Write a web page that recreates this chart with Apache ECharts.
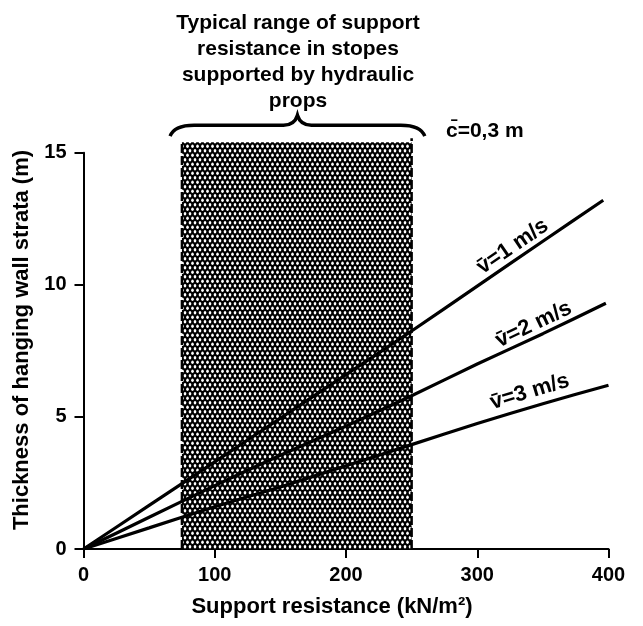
<!DOCTYPE html>
<html><head><meta charset="utf-8">
<script src="https://cdn.jsdelivr.net/npm/echarts@6/dist/echarts.min.js"></script>
<style>html,body{margin:0;padding:0;background:#fff}#c{width:643px;height:626px}</style>
</head><body><div id="c"></div>
<script>
// ---- data ----
const xTicks = [0, 100, 200, 300, 400];
const yTicks = [0, 5, 10, 15];
const v1X = [0, 50, 100, 150, 200, 250, 300, 350, 396];
const v1Y = [0, 1.65, 3.3, 4.95, 6.6, 8.25, 9.95, 11.65, 13.2];
const v2X = [0, 50, 100, 150, 200, 250, 300, 350, 398];
const v2Y = [0, 1.2, 2.4, 3.55, 4.65, 5.8, 7.0, 8.15, 9.3];
const v3X = [0, 50, 100, 150, 200, 250, 300, 350, 400];
const v3Y = [0, 0.8, 1.6, 2.35, 3.15, 3.95, 4.75, 5.5, 6.2];
const seriesNames = ['v\u0304=1 m/s', 'v\u0304=2 m/s', 'v\u0304=3 m/s'];
const labelAt = [[327, 11.45], [343, 8.5], [340, 5.95]];
const rangeX = [75, 250];
const rangeTop = 15.4;
const braceX = [66, 260];
const titleLines = ['Typical range of support', 'resistance in stopes', 'supported by hydraulic', 'props'];
const cText = 'c\u0304=0,3 m';
const xName = 'Support resistance (kN/m\u00B2)';
const yName = 'Thickness of hanging wall strata (m)';

const FONT = '"Liberation Sans", Arial, Helvetica, sans-serif';

function makePattern() {
  const c = document.createElement('canvas');
  c.width = 5; c.height = 9;
  const g = c.getContext('2d');
  g.fillStyle = '#000'; g.fillRect(0, 0, 5, 9);
  g.fillStyle = '#fff';
  const dots = [[2.5, 2.25], [0, 6.75], [5, 6.75]];
  dots.forEach(d => { g.beginPath(); g.ellipse(d[0], d[1], 1.3, 1.75, 0, 0, Math.PI * 2); g.fill(); });
  return c;
}
const pattern = makePattern();

const zip = (xs, ys) => xs.map((x, i) => [x, ys[i]]);
const lineData = [zip(v1X, v1Y), zip(v2X, v2Y), zip(v3X, v3Y)];

const chart = echarts.init(document.getElementById('c'), null, { renderer: 'canvas' });
const axisCommon = {
  axisLine: { show: true, onZero: false, lineStyle: { color: '#000', width: 2 } },
  axisTick: { show: true, inside: false, length: 9, lineStyle: { color: '#000', width: 2 } },
  splitLine: { show: false },
  axisLabel: { color: '#000', fontSize: 20, fontWeight: 'bold', fontFamily: FONT }
};
const option = {
  animation: false,
  backgroundColor: '#fff',
  grid: { left: 83.5, right: 34.5, top: 152.7, bottom: 77 },
  xAxis: Object.assign({ type: 'value', min: xTicks[0], max: xTicks[xTicks.length - 1], interval: 100 }, axisCommon,
    { axisLabel: Object.assign({}, axisCommon.axisLabel, { margin: 16 }) }),
  yAxis: Object.assign({ type: 'value', min: yTicks[0], max: yTicks[yTicks.length - 1], interval: 5 }, axisCommon,
    { axisLabel: Object.assign({}, axisCommon.axisLabel, { margin: 17 }) }),
  series: [
    {
      type: 'custom', clip: false, z: 1, silent: true,
      data: [[rangeX[0], rangeX[1], rangeTop]],
      encode: { x: [0, 1], y: 2 },
      renderItem(params, api) {
        const p0 = api.coord([api.value(0), 0]);
        const p1 = api.coord([api.value(1), api.value(2)]);
        return {
          type: 'group', children: [
            { type: 'rect', shape: { x: p0[0], y: p1[1], width: p1[0] - p0[0], height: p0[1] - p1[1] },
              style: { fill: { image: pattern, repeat: 'repeat' } } },
            { type: 'line', shape: { x1: p0[0], y1: p0[1], x2: p0[0], y2: p1[1] },
              style: { stroke: '#000', lineWidth: 2.5, lineDash: [9, 3] } },
            { type: 'line', shape: { x1: p1[0], y1: p0[1], x2: p1[0], y2: p1[1] - 4 },
              style: { stroke: '#000', lineWidth: 2.5, lineDash: [9, 3] } }
          ]
        };
      }
    },
    {
      type: 'custom', clip: false, z: 1, silent: true,
      data: [[braceX[0], braceX[1], rangeTop]],
      encode: { x: [0, 1], y: 2 },
      renderItem(params, api) {
        const a = api.coord([api.value(0), api.value(2)]);
        const b = api.coord([api.value(1), api.value(2)]);
        const x0 = a[0], x1 = b[0], xm = (x0 + x1) / 2;
        const yEnd = a[1] - 6, yBody = a[1] - 17, yTip = a[1] - 27;
        const d = `M${x0} ${yEnd} Q${x0 + 4} ${yBody} ${x0 + 24} ${yBody} L${xm - 14} ${yBody} Q${xm - 3} ${yBody} ${xm} ${yTip} Q${xm + 3} ${yBody} ${xm + 14} ${yBody} L${x1 - 24} ${yBody} Q${x1 - 4} ${yBody} ${x1} ${yEnd}`;
        return { type: 'path', shape: { pathData: d }, style: { stroke: '#000', lineWidth: 3.5, fill: null } };
      }
    }
  ].concat(lineData.map((d, i) => ({
    type: 'line', name: seriesNames[i], data: d, symbol: 'none', smooth: 0.2, z: 3,
    lineStyle: { color: '#000', width: 3.2 }
  })))
};
chart.setOption(option);

// text annotations
const graphics = [];
titleLines.forEach((t, i) => {
  graphics.push({ type: 'text', x: 298, y: 23 + i * 26,
    style: { text: t, font: `bold 21px ${FONT}`, fill: '#000', textAlign: 'center', textVerticalAlign: 'middle' } });
});
graphics.push({ type: 'text', x: 446, y: 131,
  style: { text: cText, font: `bold 21px ${FONT}`, fill: '#000', textAlign: 'left', textVerticalAlign: 'middle' } });
graphics.push({ type: 'text', x: 332, y: 607,
  style: { text: xName, font: `bold 22px ${FONT}`, fill: '#000', textAlign: 'center', textVerticalAlign: 'middle' } });
graphics.push({ type: 'text', x: 22, y: 340, rotation: Math.PI / 2,
  style: { text: yName, font: `bold 22px ${FONT}`, fill: '#000', textAlign: 'center', textVerticalAlign: 'middle' } });
lineData.forEach((d, i) => {
  const pA = chart.convertToPixel({ gridIndex: 0 }, d[5]);
  const pB = chart.convertToPixel({ gridIndex: 0 }, d[d.length - 1]);
  const ang = Math.atan2(pA[1] - pB[1], pB[0] - pA[0]);
  const p = chart.convertToPixel({ gridIndex: 0 }, labelAt[i]);
  graphics.push({ type: 'text', x: p[0], y: p[1], rotation: ang,
    style: { text: seriesNames[i], font: `bold 22px ${FONT}`, fill: '#000', textAlign: 'center', textVerticalAlign: 'middle' } });
});
chart.setOption({ graphic: graphics });
</script>
</body></html>
